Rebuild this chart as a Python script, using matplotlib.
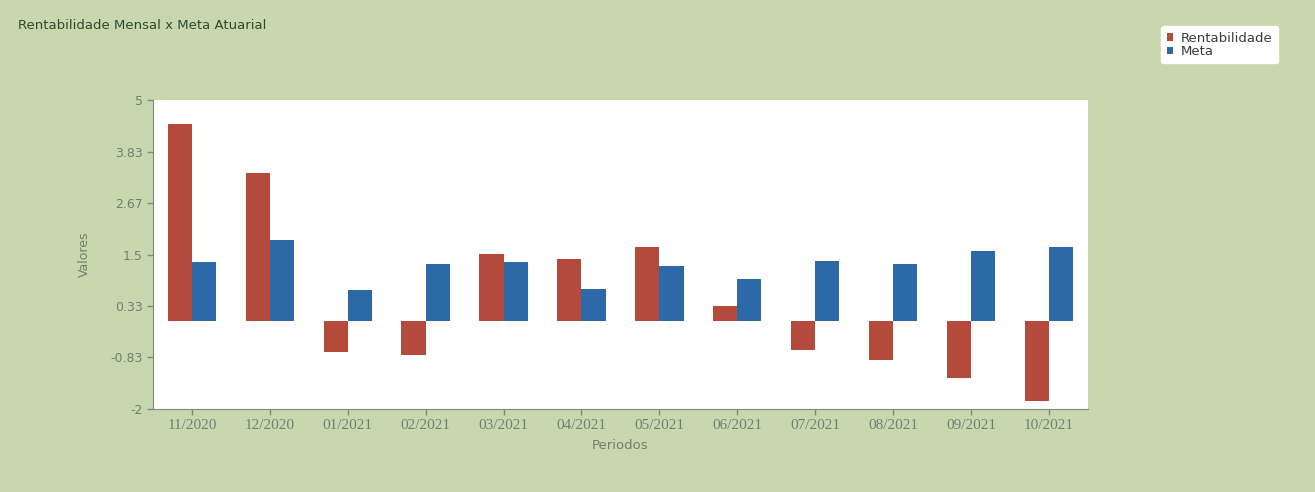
import matplotlib
matplotlib.use("Agg")
import matplotlib.pyplot as plt
import numpy as np

### chart data
periodos = ['11/2020', '12/2020', '01/2021', '02/2021', '03/2021', '04/2021',
            '05/2021', '06/2021', '07/2021', '08/2021', '09/2021', '10/2021']
rentabilidade = [4.46, 3.35, -0.71, -0.78, 1.51, 1.40, 1.67, 0.33, -0.66, -0.88, -1.30, -1.83]
meta = [1.33, 1.83, 0.70, 1.28, 1.33, 0.72, 1.24, 0.94, 1.35, 1.28, 1.57, 1.66]
y_ticks = [-2, -0.83, 0.33, 1.5, 2.67, 3.83, 5]
y_labels = ['-2', '-0.83', '0.33', '1.5', '2.67', '3.83', '5']

bg = '#c9d7ae'
red = '#b44a3c'
blue = '#2c69a6'
txt = '#6f8070'

fig = plt.figure(figsize=(13.15, 4.92), dpi=100)
fig.patch.set_facecolor(bg)
ax = fig.add_axes([0.1163, 0.1687, 0.711, 0.628])
ax.set_facecolor('white')

x = np.arange(len(periodos))
w = 0.31
ax.bar(x - w / 2, rentabilidade, width=w, color=red, label='Rentabilidade')
ax.bar(x + w / 2, meta, width=w, color=blue, label='Meta')

ax.set_xlim(-0.5, len(periodos) - 0.5)
ax.set_ylim(-2, 5)
ax.set_yticks(y_ticks)
ax.set_yticklabels(y_labels, fontsize=9, color=txt)
ax.set_xticks(x)
ax.set_xticklabels(periodos, fontsize=11, color=txt, family='Liberation Serif')
ax.tick_params(axis='both', direction='out', length=4, color='#7d8a7d', width=1)

for s in ['top', 'right']:
    ax.spines[s].set_visible(False)
for s in ['left', 'bottom']:
    ax.spines[s].set_color('#7d8a7d')

ax.set_ylabel('Valores', fontsize=9, color=txt, labelpad=14)
ax.set_xlabel('Periodos', fontsize=9.5, color=txt, labelpad=5)

fig.text(0.014, 0.948, 'Rentabilidade Mensal x Meta Atuarial', fontsize=9.5,
         color='#2f4a2a', ha='left', va='center')

leg = fig.legend(loc='upper right', bbox_to_anchor=(0.977, 0.96), fontsize=9.5,
                 handlelength=0.5, handleheight=0.5, handletextpad=0.6,
                 borderpad=0.4, labelspacing=0.05, frameon=True, fancybox=True,
                 framealpha=1)
leg.get_frame().set_facecolor('white')
leg.get_frame().set_edgecolor('white')
for t in leg.get_texts():
    t.set_color('#3a3a3a')

fig.savefig('out.png', dpi=100, facecolor=fig.get_facecolor())
